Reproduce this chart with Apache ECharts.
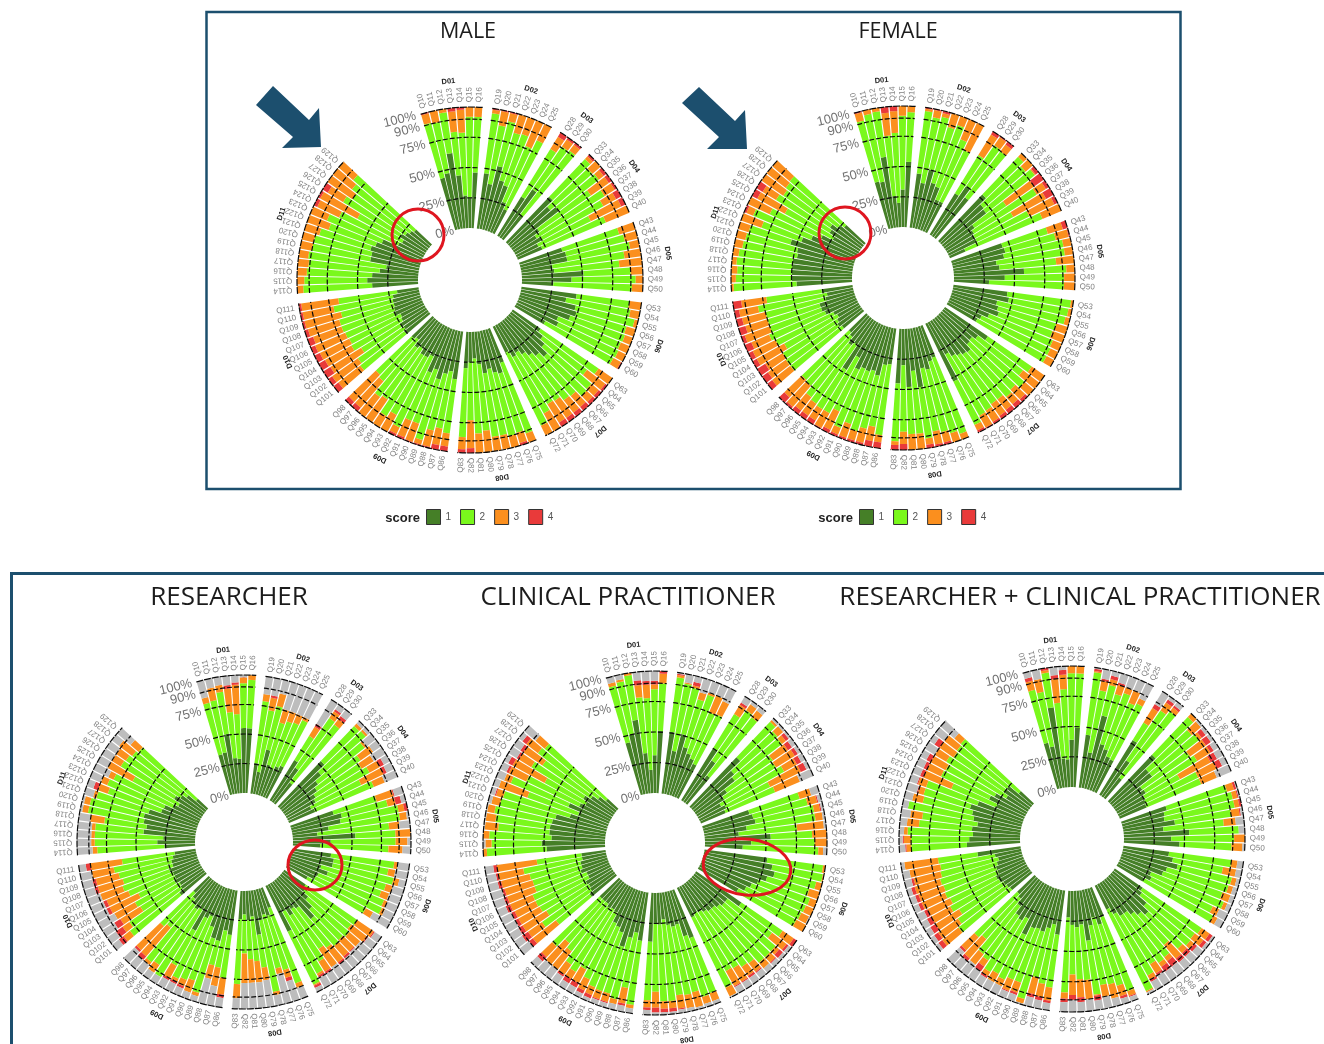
<!DOCTYPE html>
<html><head><meta charset="utf-8">
<style>html,body{margin:0;padding:0;background:#fff}#c{width:1324px;height:1044px}</style>
<script src="https://cdn.jsdelivr.net/npm/echarts@6/dist/echarts.min.js"></script>
</head><body><div id="c"></div>
<script>
// question groups
const domainNames = ['D01','D02','D03','D04','D05','D06','D07','D08','D09','D10','D11'];
const domainQuestions = [
 ['Q10','Q11','Q12','Q13','Q14','Q15','Q16'],
 ['Q19','Q20','Q21','Q22','Q23','Q24','Q25'],
 ['Q28','Q29','Q30'],
 ['Q33','Q34','Q35','Q36','Q37','Q38','Q39','Q40'],
 ['Q43','Q44','Q45','Q46','Q47','Q48','Q49','Q50'],
 ['Q53','Q54','Q55','Q56','Q57','Q58','Q59','Q60'],
 ['Q63','Q64','Q65','Q66','Q67','Q68','Q69','Q70','Q71','Q72'],
 ['Q75','Q76','Q77','Q78','Q79','Q80','Q81','Q82','Q83'],
 ['Q86','Q87','Q88','Q89','Q90','Q91','Q92','Q93','Q94','Q95','Q96','Q97','Q98'],
 ['Q101','Q102','Q103','Q104','Q105','Q106','Q107','Q108','Q109','Q110','Q111'],
 ['Q114','Q115','Q116','Q117','Q118','Q119','Q120','Q121','Q122','Q123','Q124','Q125','Q126','Q127','Q128','Q129']
];
const percentTicks = [0,25,50,75,90,100];
const ringLevels = [25,50,75,90,100];
const scoreNames = ['1','2','3','4'];

// cumulative % at the top of score 1, 2, 3 (and 4) per question
const male_top1 = [44,47,63,44,27,25,46, 46,38,54,43,40,27,22, 38,48,25, 52,45,50,27,22,25,20,22, 37,39,39,26,27,51,41,26, 46,38,47,49,45,36,38,28, 28,33,38,45,40,36,32,28,30,24, 30,38,36,32,35,27,22,25,30, 40,34,37,43,36,40,27,30,30,26,28,22,24, 26,24,25,22,21,25,24,23,23,22,18, 38,42,38,32,27,41,41,43,40,36,23,21,25,22,20,18];
const male_top2 = [91,90,97,80,79,92,92, 96,87,92,84,85,77,85, 84,91,92, 95,91,92,79,88,83,68,79, 86,89,92,86,81,90,94,91, 90,92,97,92,93,92,93,92, 86,79,89,90,84,83,79,78,83,91, 92,89,90,88,88,82,84,73,87, 85,82,85,95,83,83,92,84,89,77,79,67,65, 72,70,63,69,68,69,70,70,67,72,67, 95,94,92,91,92,90,90,87,81,85,77,63,80,75,80,84];
const male_top3 = [99,100,100,97,98,100,100, 99,99,99,100,100,100,100, 96,98,98, 98,100,97,97,98,95,96,100, 100,100,100,100,100,100,100,100, 100,100,100,100,100,100,100,99, 100,98,97,97,96,96,96,96,100,100, 100,98,100,100,100,100,100,96,97, 96,96,99,99,99,98,98,100,100,100,100,96,96, 95,96,93,94,95,96,95,97,98,98,98, 100,100,100,100,100,100,100,100,100,100,97,98,95,100,100,100];
const male_top4 = [100,100,100,100,100,100,100, 100,100,100,100,100,100,100, 100,100,100, 100,100,100,100,100,100,100,100, 100,100,100,100,100,100,100,100, 100,100,100,100,100,100,100,100, 100,100,100,100,100,100,100,100,100,100, 100,100,100,100,100,100,100,100,100, 100,100,100,100,100,100,100,100,100,100,100,100,100, 100,100,100,100,100,100,100,100,100,100,100, 100,100,100,100,100,100,100,100,100,100,100,100,100,100,100,100];

const female_top1 = [40,39,59,26,20,31,54, 45,38,50,40,38,28,28, 40,50,42, 53,46,45,30,27,26,26,14, 44,45,43,36,38,58,42,29, 45,47,38,40,42,35,30,28, 43,36,33,34,39,38,36,34,30,53, 28,30,36,34,49,35,48,30,45, 30,31,41,38,40,39,42,33,47,25,28,22,20, 22,24,22,20,22,28,30,30,24,22,26, 46,50,50,50,50,47,48,55,47,40,33,24,29,31,26,22];
const female_top2 = [92,96,97,76,78,92,95, 97,93,95,88,92,82,75, 77,91,90, 96,92,96,62,88,62,74,83, 83,88,93,93,85,93,91,91, 98,97,96,90,89,92,93,93, 87,83,90,86,88,85,85,87,88,93, 95,92,89,87,92,87,87,85,93, 89,83,86,90,86,92,80,85,85,84,82,75,74, 76,76,75,70,75,78,75,75,75,80,72, 98,96,95,96,95,93,92,91,82,92,80,69,81,78,80,81];
const female_top3 = [99,100,100,95,96,100,100, 99,99,98,100,100,100,100, 97,99,97, 100,100,97,90,97,93,97,100, 96,99,100,100,100,100,100,100, 100,100,100,100,100,100,100,100, 100,100,100,97,96,96,97,98,99,98, 100,100,98,98,97,100,100,95,96, 95,95,98,98,98,98,97,99,96,96,96,98,94, 95,94,92,96,96,94,97,94,95,96,93, 100,100,100,100,100,100,100,100,100,98,100,95,94,100,100,100];
const female_top4 = male_top4;

const researcher_top1 = [35,36,51,30,29,55,55, 26,19,39,27,25,28,30, 40,35,22, 53,45,38,34,30,28,22,24, 38,44,42,31,21,53,32,23, 33,36,36,27,34,27,26,20, 22,24,30,38,45,30,28,32,26,43, 18,24,22,26,38,22,25,20,24, 38,35,45,44,35,27,30,44,26,28,26,22,18, 28,24,23,26,24,24,26,22,22,20,18, 26,32,27,44,42,45,46,43,33,32,25,22,28,24,20,12];
const researcher_top2 = [80,81,87,69,67,93,96, 79,72,77,64,67,68,73, 64,86,84, 94,95,88,79,76,80,69,78, 76,84,92,92,82,87,87,81, 87,83,89,84,82,87,88,76, 75,73,76,74,75,72,69,78,86,93, 86,72,69,88,66,60,58,53,79, 75,67,66,92,83,85,87,78,93,85,87,54,57, 81,77,62,64,58,65,68,66,68,71,63, 83,85,85,85,78,93,93,89,81,84,81,66,81,80,78,76];
const researcher_top3 = [85,92,93,89,92,98,100, 85,83,88,76,76,76,76, 73,93,90, 97,97,90,92,88,90,90,88, 91,91,97,98,91,100,97,93, 90,89,94,90,89,90,91,83, 92,90,88,87,87,88,88,88,88,94, 90,79,74,91,77,78,78,78,91, 89,83,78,95,94,91,90,90,93,93,90,86,85, 88,84,82,84,85,85,88,88,88,90,90, 87,88,88,88,90,98,98,92,90,90,86,90,90,90,92,85];
const researcher_top4 = [85,92,93,92,94,98,100, 85,85,88,76,76,76,76, 76,95,93, 97,97,90,92,88,94,93,88, 92,96,100,98,91,100,97,93, 90,89,94,90,89,90,91,83, 93,91,88,88,89,90,88,90,90,96, 90,82,74,91,77,78,78,78,91, 92,83,78,95,94,93,92,92,93,93,90,90,87, 93,91,88,84,88,88,88,91,91,90,94, 87,88,88,88,90,98,98,92,94,90,86,90,90,90,92,85];

const clinical_top1 = [44,50,61,33,19,31,51, 51,36,51,41,37,34,31, 50,41,29, 56,45,42,31,26,21,24,22, 40,42,43,35,28,54,38,31, 52,57,60,55,49,45,42,37, 45,34,34,32,30,30,28,26,25,27, 42,39,28,29,27,22,26,25,40, 40,34,39,48,37,34,32,24,23,24,22,22,22, 27,24,23,24,20,20,24,22,22,20,20, 48,52,44,46,46,45,43,32,26,36,28,24,28,23,18,12];
const clinical_top2 = [92,94,98,79,78,85,90, 96,92,90,82,88,75,76, 83,91,89, 96,92,91,77,76,80,64,66, 83,88,92,92,76,88,90,93, 98,99,95,91,94,93,92,91, 86,80,89,89,89,84,83,80,79,91, 90,91,85,86,85,89,89,81,88, 93,80,91,88,88,87,83,77,83,80,71,67,76, 62,72,64,67,68,68,64,64,65,69,57, 97,93,95,88,91,93,90,89,70,87,76,62,78,71,80,78];
const clinical_top3 = [95,96,100,89,89,89,98, 98,93,92,88,90,90,88, 92,97,96, 98,98,95,92,94,92,92,88, 93,96,97,98,98,100,100,97, 100,100,100,100,100,100,99,100, 97,95,93,95,95,93,92,93,93,99, 97,97,98,97,96,95,95,94,94, 96,93,95,95,95,94,93,90,90,90,90,90,88, 86,86,87,87,87,88,88,88,89,90,90, 100,98,100,99,99,99,97,95,95,93,92,92,90,90,92,88];
const clinical_top4 = [95,96,100,93,92,92,100, 99,93,95,88,90,90,88, 94,97,96, 98,98,98,96,97,96,97,88, 93,97,98,98,98,100,100,97, 100,100,100,100,100,100,99,100, 100,97,97,96,95,94,94,94,94,99, 97,97,98,97,97,98,98,98,96, 96,95,95,96,96,97,96,94,94,92,90,90,93, 90,92,91,90,90,92,91,90,92,92,93, 100,98,100,99,99,99,97,96,95,93,94,96,92,93,96,88];

const both_top1 = [39,35,67,24,23,39,49, 44,30,62,39,36,31,30, 53,36,21, 53,41,41,28,29,26,25,24, 39,36,35,43,33,54,39,46, 38,42,47,39,37,28,30,25, 28,30,38,44,40,36,32,32,28,22, 26,31,24,30,42,28,30,28,22, 37,29,33,37,36,37,45,32,36,34,27,22,20, 22,23,24,26,27,24,24,22,20,22,36, 44,42,39,40,36,40,42,45,40,25,33,30,21,25,25,15];
const both_top2 = [84,81,96,70,81,94,94, 96,82,88,82,85,79,81, 70,86,90, 96,88,90,76,79,59,73,73, 91,94,94,90,83,95,91,89, 90,84,93,92,89,93,86,90, 87,85,86,83,73,81,82,79,86,97, 91,84,81,80,87,74,73,69,84, 81,79,75,95,83,83,86,84,86,79,77,66,69, 76,72,67,72,69,71,70,71,69,68,69, 90,90,93,84,82,95,84,85,85,65,77,76,79,76,77,78];
const both_top3 = [92,92,98,90,93,100,100, 97,90,93,90,90,90,86, 84,94,94, 100,98,93,92,92,88,90,87, 97,98,98,97,93,95,100,98, 95,95,97,96,96,96,92,94, 95,94,90,88,88,85,86,88,90,98, 95,93,93,90,88,90,88,86,89, 92,90,89,99,92,93,92,92,90,85,88,87,84, 93,92,90,90,90,92,92,93,92,94,97, 94,96,96,94,92,95,93,90,92,90,90,90,90,90,90,85];
const both_top4 = [95,92,100,93,97,100,100, 99,92,96,92,90,90,86, 88,97,96, 100,98,97,97,95,94,95,87, 99,99,100,98,93,95,100,98, 95,95,97,96,96,96,92,94, 98,97,93,92,92,91,91,90,92,98, 96,95,93,90,92,90,92,90,92, 94,93,92,99,94,94,92,92,92,90,88,90,86, 97,96,95,94,93,95,95,96,94,94,97, 95,97,96,94,92,95,93,91,93,93,93,94,90,95,90,85];

const chartList = [
 {title:'MALE', size:21.5, tx:468, ty:32, cx:470, cy:280, r0:52, r1:173, tops:[male_top1,male_top2,male_top3,male_top4]},
 {title:'FEMALE', size:21.5, tx:898, ty:32, cx:903, cy:278, r0:51, r1:172, tops:[female_top1,female_top2,female_top3,female_top4]},
 {title:'RESEARCHER', size:26, tx:229, ty:598, cx:244, cy:842, r0:49, r1:167, tops:[researcher_top1,researcher_top2,researcher_top3,researcher_top4]},
 {title:'CLINICAL PRACTITIONER', size:26, tx:628, ty:598, cx:655, cy:843, r0:50, r1:172, tops:[clinical_top1,clinical_top2,clinical_top3,clinical_top4]},
 {title:'RESEARCHER + CLINICAL PRACTITIONER', size:26, tx:1080, ty:598, cx:1072, cy:839, r0:52, r1:173, tops:[both_top1,both_top2,both_top3,both_top4]}
];

const COLORS = {s1:'#457f27', s2:'#7af81c', s3:'#fb8f1e', s4:'#e93a3a', na:'#bdbdbd', navy:'#1c4f6e', red:'#df1620'};
const START = -16.7, UNIT = 3, TOTAL_UNITS = 120;

// slot layout: question slots with one empty slot between domains; remainder is the open wedge
const angleSlots = [], groups = [];
domainQuestions.forEach((qs, g) => {
  const first = angleSlots.length;
  qs.forEach(q => angleSlots.push(q));
  groups.push({name: domainNames[g], first, last: angleSlots.length - 1});
  if (g < domainQuestions.length - 1) angleSlots.push('');
});
while (angleSlots.length < TOTAL_UNITS) angleSlots.push('');

const polar = [], angleAxis = [], radiusAxis = [], series = [];
const offAxis = {axisLine:{show:false}, axisTick:{show:false}, axisLabel:{show:false}, splitLine:{show:false}, splitArea:{show:false}};

function tickItems() {
  const out = [];
  angleSlots.forEach((q, i) => {
    if (!q) return;
    const th = ((START + UNIT * (i + .5)) % 360 + 360) % 360;
    const inward = th > 180 && th < 264;
    out.push({name: q, value: [104, i], label: {
      rotate: inward ? 270 - th : 90 - th,
      position: inward ? 'left' : 'right'
    }});
  });
  return out;
}

function arcRender(params, api) {
  const c = params.coordSys;
  const p = api.value(0), a = api.coord([p, api.value(1)]), b = api.coord([p, api.value(2)]);
  const r = Math.hypot(a[0]-c.cx, a[1]-c.cy);
  const half = UNIT * .47 * Math.PI / 180;
  return {type:'arc', shape:{cx:c.cx, cy:c.cy, r,
      startAngle: Math.atan2(a[1]-c.cy, a[0]-c.cx) - half,
      endAngle: Math.atan2(b[1]-c.cy, b[0]-c.cx) + half, clockwise:true},
    style:{stroke:'#0a0a0a', fill:null, lineWidth:1.2, lineDash: p === 100 ? [7,1] : [5,2]}, z2:10};
}
function domainRender(params, api) {
  const c = params.coordSys;
  const a = api.coord([122, api.value(0)]), b = api.coord([122, api.value(1)]);
  const a0 = Math.atan2(a[1]-c.cy, a[0]-c.cx), b0 = Math.atan2(b[1]-c.cy, b[0]-c.cx);
  let d = b0 - a0; if (d < 0) d += 2*Math.PI;
  const m = a0 + d/2, r = Math.hypot(a[0]-c.cx, a[1]-c.cy);
  return {type:'text', x:c.cx + r*Math.cos(m), y:c.cy + r*Math.sin(m), rotation: -(m + Math.PI/2),
    style:{text: domainNames[params.dataIndex], font:'bold 7.5px "Liberation Sans"', fill:'#222', textAlign:'center', textVerticalAlign:'middle'}};
}

chartList.forEach((ch, k) => {
  polar.push({center:[ch.cx, ch.cy], radius:[ch.r0, ch.r1]});
  angleAxis.push({polarIndex:k, type:'category', data:angleSlots, startAngle:90 - START, clockwise:true, boundaryGap:true, ...offAxis});
  radiusAxis.push({polarIndex:k, type:'value', min:0, max:100, ...offAxis});
  const seg = (idx) => {
    const out = []; let q = 0;
    angleSlots.forEach(name => {
      if (!name) { out.push(null); return; }
      const lo = idx === 0 ? 0 : ch.tops[idx-1][q];
      const hi = idx === 4 ? 100 : ch.tops[idx][q];
      out.push(Math.max(0, hi - lo)); q++;
    });
    return out;
  };
  [[ '1',COLORS.s1],['2',COLORS.s2],['3',COLORS.s3],['4',COLORS.s4],['NA',COLORS.na]].forEach((s,i) => {
    series.push({type:'bar', name:s[0], coordinateSystem:'polar', polarIndex:k, stack:'c'+k, data:seg(i),
      barCategoryGap:'14%', itemStyle:{color:s[1]}, silent:true, animation:false, z:2});
  });
  series.push({type:'custom', coordinateSystem:'polar', polarIndex:k, renderItem:arcRender, silent:true, animation:false, z:4, clip:false,
    encode:{radius:0, angle:1},
    data: ringLevels.flatMap(p => groups.map(g => [p, g.first, g.last]))});
  series.push({type:'custom', coordinateSystem:'polar', polarIndex:k, renderItem:domainRender, silent:true, animation:false, z:5, clip:false,
    encode:{angle:0},
    data: groups.map(g => [g.first, g.last])});
  series.push({type:'scatter', coordinateSystem:'polar', polarIndex:k, symbolSize:0, silent:true, animation:false, clip:false, z:5,
    encode:{radius:0, angle:1}, data:tickItems(),
    label:{show:true, formatter:'{b}', distance:0, color:'#5f5f5f', fontSize:8, fontFamily:'Liberation Sans'}});
  series.push({type:'scatter', coordinateSystem:'polar', polarIndex:k, symbolSize:0, silent:true, animation:false, clip:false, z:5,
    encode:{radius:0, angle:1},
    data: percentTicks.map(p => ({name:p+'%', value:[p, TOTAL_UNITS-1]})),
    label:{show:true, formatter:'{b}', position:'left', distance:0, rotate:14, color:'#4d4d4d', fontSize:13, fontFamily:'Liberation Sans'}});
});

const legendBase = {top:509, itemWidth:14, itemHeight:15, itemGap:9, icon:'rect', selectedMode:false, orient:'horizontal', padding:0,
  data:scoreNames, textStyle:{color:'#555', fontSize:10, fontFamily:'Liberation Sans'}, itemStyle:{borderColor:'#333', borderWidth:1}};

const graphic = [
 {type:'rect', shape:{x:206.5, y:12, width:974, height:477}, style:{fill:'none', stroke:COLORS.navy, lineWidth:2.5}, z:50},
 {type:'rect', shape:{x:11.5, y:573.5, width:1330, height:500}, style:{fill:'none', stroke:COLORS.navy, lineWidth:3}, z:50},
 {type:'polygon', shape:{points:[[273,86],[309,120],[319,108],[321,147],[282,148],[293,137],[256,105]]}, style:{fill:COLORS.navy}, z:60},
 {type:'polygon', shape:{points:[[699,87],[735,121],[745,110],[747,149],[707,149],[719,137],[682,103]]}, style:{fill:COLORS.navy}, z:60},
 {type:'circle', shape:{cx:418, cy:235, r:26}, style:{fill:'none', stroke:COLORS.red, lineWidth:3}, z:60},
 {type:'circle', shape:{cx:845, cy:233, r:26}, style:{fill:'none', stroke:COLORS.red, lineWidth:3}, z:60},
 {type:'ellipse', shape:{cx:315, cy:865, rx:27, ry:25}, style:{fill:'none', stroke:COLORS.red, lineWidth:3}, z:60},
 {type:'ellipse', x:747, y:867, rotation:-0.12, shape:{cx:0, cy:0, rx:44, ry:28}, style:{fill:'none', stroke:COLORS.red, lineWidth:3}, z:60},
 {type:'text', x:420, y:518, style:{text:'score', font:'bold 13px "Liberation Sans"', fill:'#222', textAlign:'right', textVerticalAlign:'middle'}, z:60},
 {type:'text', x:853, y:518, style:{text:'score', font:'bold 13px "Liberation Sans"', fill:'#222', textAlign:'right', textVerticalAlign:'middle'}, z:60}
];
chartList.forEach(ch => graphic.push({type:'text', x:ch.tx, y:ch.ty, style:{text:ch.title, font:ch.size+'px "Open Sans"', fill:'#1c1c1c', textAlign:'center', textVerticalAlign:'middle'}, z:60}));

const chart = echarts.init(document.getElementById('c'), null, {renderer:'canvas'});
chart.setOption({animation:false, backgroundColor:'#fff', polar, angleAxis, radiusAxis, series, graphic,
  legend:[{...legendBase, left:426}, {...legendBase, left:859}], tooltip:{show:false}});
</script></body></html>
